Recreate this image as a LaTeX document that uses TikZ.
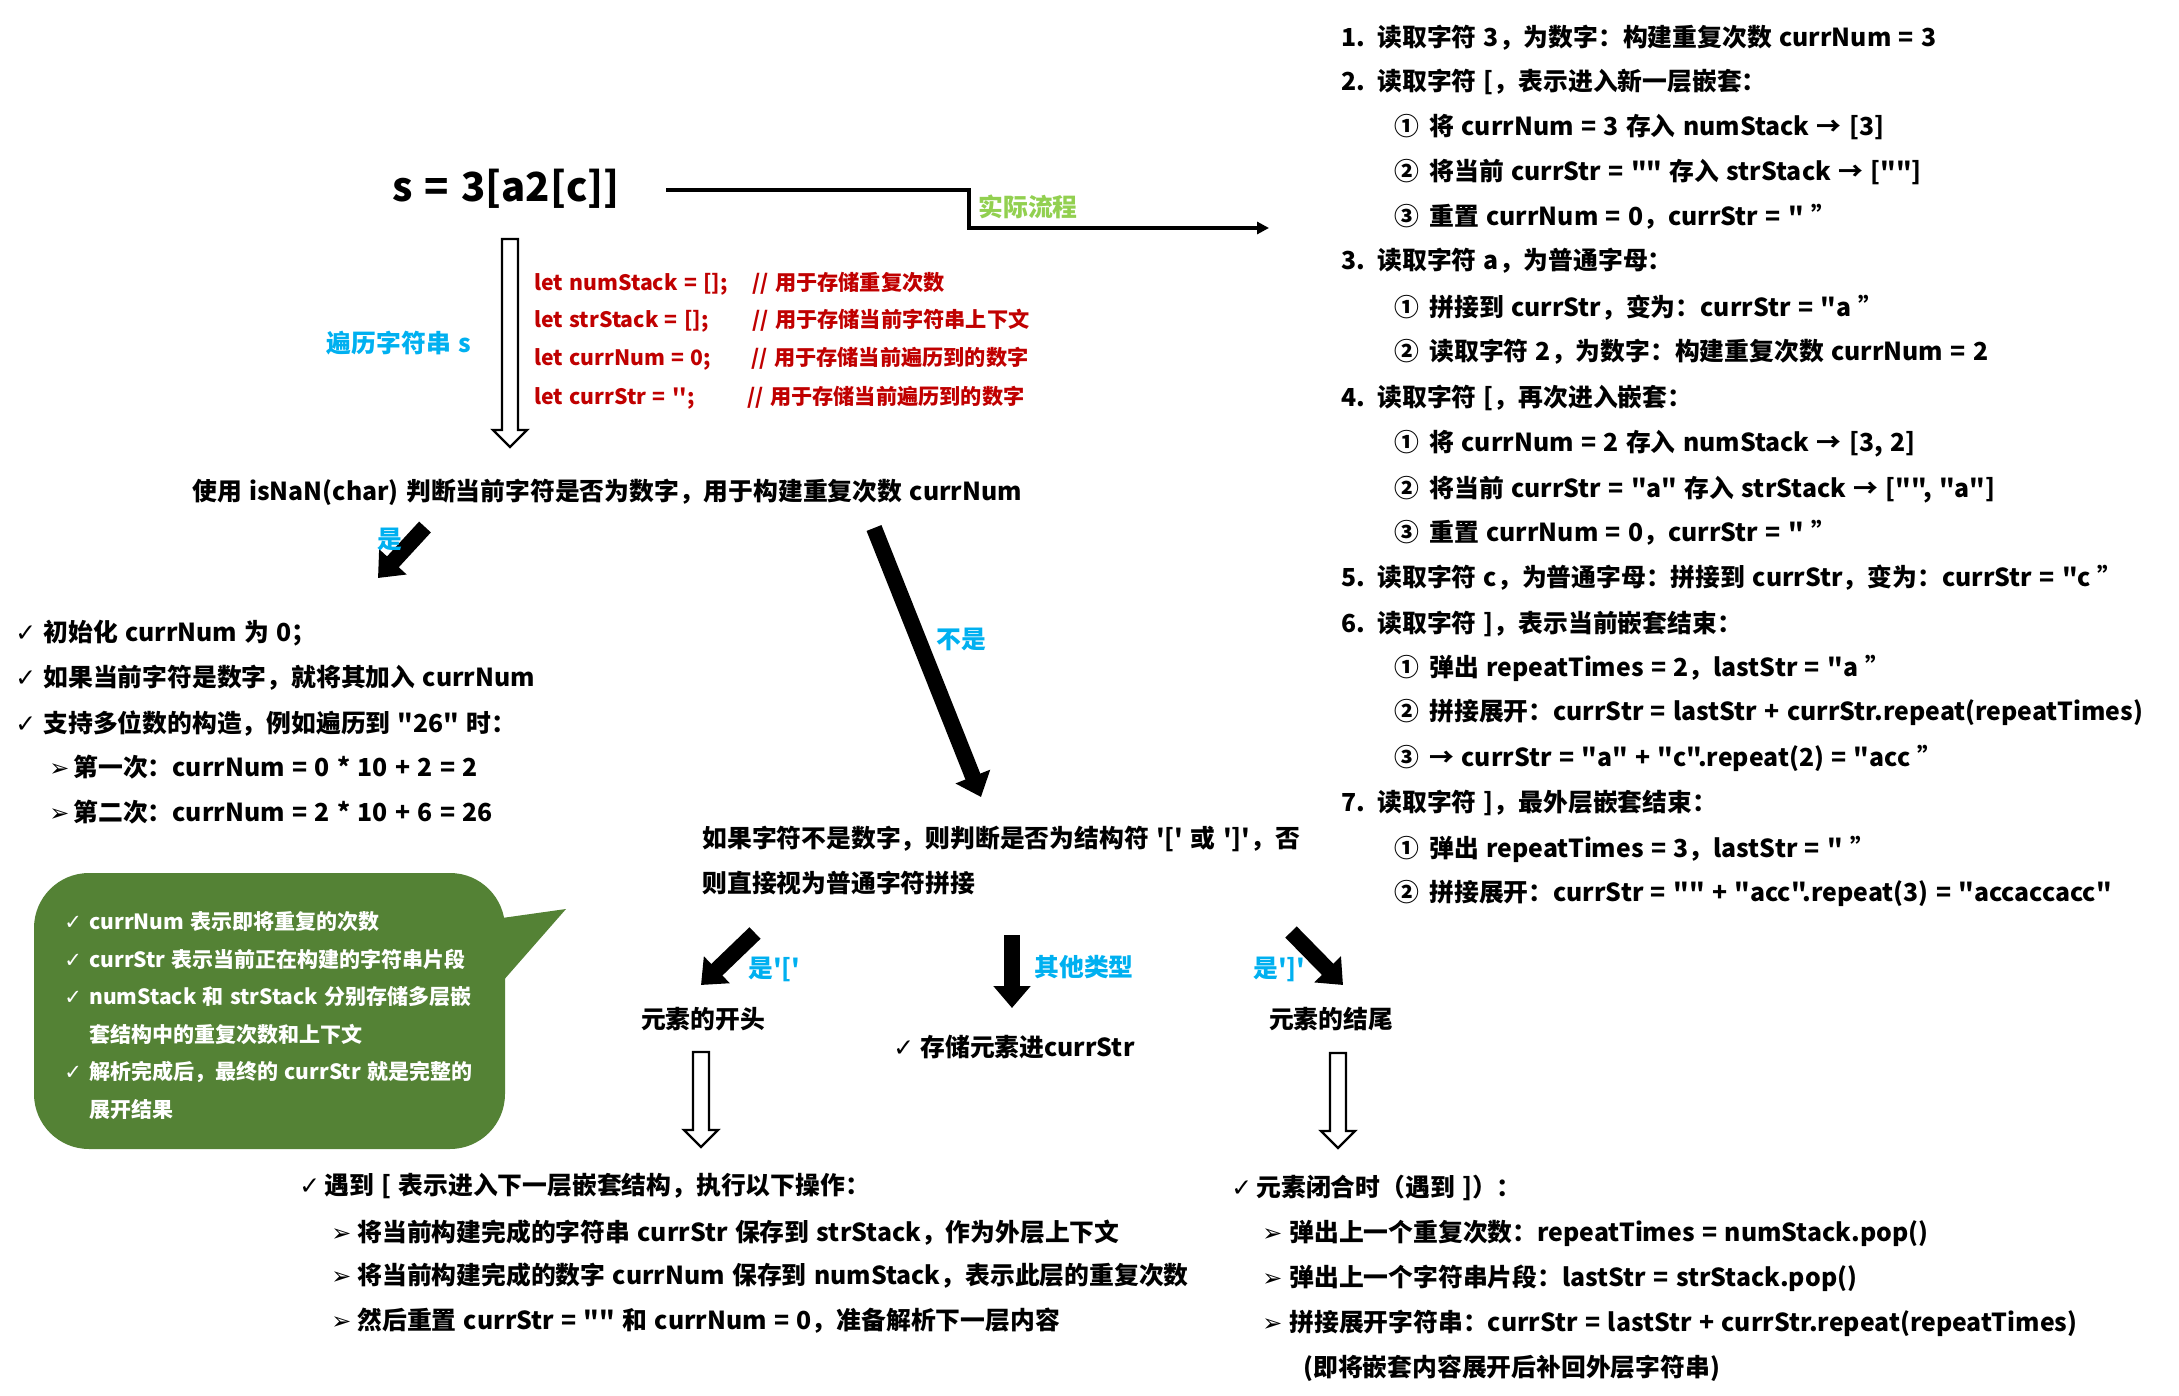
\documentclass[tikz,border=0pt]{standalone}
\usepackage{fontspec}
\newfontfamily\cjk{Noto Sans CJK SC}[WordSpace=1.3]
\newfontfamily\dejavu{DejaVu Sans}
\usetikzlibrary{arrows.meta,calc}
\definecolor{cblue}{HTML}{00B0F0}
\definecolor{cred}{HTML}{C00000}
\definecolor{clgreen}{HTML}{92D050}
\definecolor{cgreen}{HTML}{548235}
\newcommand\ckm[1]{\makebox[#1][l]{\dejavu\mdseries ✓}}
\newcommand\arm[1]{\makebox[#1][l]{\dejavu\mdseries\fontsize{12}{12}\selectfont ➢}}
\newcommand\nbx[2]{\makebox[#1][l]{#2}}
\newcommand\hollowarr[2]{%
  \draw[hollow] ($(#1)+(-8,0)$) -- ($(#2)+(-8,-17)$) -- ($(#2)+(-17,-17)$) -- (#2)
    -- ($(#2)+(17,-17)$) -- ($(#2)+(8,-17)$) -- ($(#1)+(8,0)$) -- cycle;}
\begin{document}
\begin{tikzpicture}[x=0.5pt,y={(0pt,-0.5pt)},
  t/.style={inner sep=0pt, anchor=base west, font=\cjk\bfseries\fontsize{12.4}{15}\selectfont},
  tm/.style={t, anchor=base},
  redt/.style={t, text=cred, font=\cjk\bfseries\fontsize{10.6}{12}\selectfont},
  bluet/.style={t, text=cblue},
  callt/.style={t, text=white, font=\cjk\bfseries\fontsize{10.5}{13}\selectfont},
  blk/.style={line width=8pt, -{Triangle[width=18pt,length=11pt]}},
  hollow/.style={draw=black, line width=1.2pt, fill=white, line join=miter},
  flow/.style={line width=2pt, -{Triangle[width=6pt,length=6pt]}}]
\fill[white] (0,0) rectangle (2179,1396);
\useasboundingbox (0,0) rectangle (2179,1396);

% title and flow line
\node[tm, font=\cjk\bfseries\fontsize{20}{24}\selectfont] (title) at (506,202) {s = 3[a2[c]]};
\coordinate (fs) at (666,190);
\coordinate (fc) at (969,190);
\coordinate (fe) at (1269,228);
\draw[flow] (fs) -- (fc) |- (fe);
\node[tm, text=clgreen] (flowlbl) at (1028,217) {实际流程};

% traverse arrow
\coordinate (tvt) at (510,239);
\coordinate (tvb) at (510,447);
\hollowarr{tvt}{tvb}
\node[tm, text=cblue] (trav) at (399,352) {遍历字符串 s};

% code lines
\node[redt] (c1) at (534,290.5) {let numStack = [];};
\node[redt] (c2) at (534,328) {let strStack = [];};
\node[redt] (c3) at (534,365.5) {let currNum = 0;};
\node[redt] (c4) at (534,404.5) {let currStr = '{}';};
\node[redt] (m1) at (752,290.5) {// 用于存储重复次数};
\node[redt] (m2) at (752,328) {// 用于存储当前字符串上下文};
\node[redt] (m3) at (751,365.5) {// 用于存储当前遍历到的数字};
\node[redt] (m4) at (747,404.5) {// 用于存储当前遍历到的数字};

% main test line
\node[t] (isnan) at (192,500) {使用 isNaN(char) 判断当前字符是否为数字，用于构建重复次数 currNum};

% yes / no arrows
\coordinate (ya) at (425,527);
\coordinate (yb) at (378,578);
\draw[blk] (ya) -- (yb);
\node[tm, text=cblue] (yes) at (390,548) {是};
\coordinate (na) at (874,528);
\coordinate (nb) at (981,797);
\draw[blk] (na) -- (nb);
\node[tm, text=cblue] (no) at (961,648) {不是};

% left list
\node[t] (l1) at (15,641) {\ckm{14pt}初始化 currNum 为 0；};
\node[t] (l2) at (15,686) {\ckm{14pt}如果当前字符是数字，就将其加入 currNum};
\node[t] (l3) at (15,732) {\ckm{14pt}支持多位数的构造，例如遍历到 "26" 时：};
\node[t] (l4) at (49,776) {\arm{12pt}第一次：currNum = 0 * 10 + 2 = 2};
\node[t] (l5) at (49,821) {\arm{12pt}第二次：currNum = 2 * 10 + 6 = 26};

% callout
\fill[cgreen, rounded corners=27.5pt] (34,873) rectangle (505,1149);
\fill[cgreen] (495,919) -- (566,909) -- (495,990) -- cycle;
\node[callt] (k1) at (64,929) {\ckm{12.5pt}currNum 表示即将重复的次数};
\node[callt] (k2) at (64,967) {\ckm{12.5pt}currStr 表示当前正在构建的字符串片段};
\node[callt] (k3) at (64,1004) {\ckm{12.5pt}numStack 和 strStack 分别存储多层嵌};
\node[callt] (k4) at (89,1042) {套结构中的重复次数和上下文};
\node[callt] (k5) at (64,1079) {\ckm{12.5pt}解析完成后，最终的 currStr 就是完整的};
\node[callt] (k6) at (89,1117) {展开结果};

% non-digit
\node[t] (nd1) at (702,847) {如果字符不是数字，则判断是否为结构符 '[' 或 ']'，否};
\node[t] (nd2) at (702,892) {则直接视为普通字符拼接};

% three branch arrows
\coordinate (la) at (755,933);
\coordinate (lb) at (701,985);
\draw[blk] (la) -- (lb);
\node[bluet] (lbl1) at (748,977) {是'['};
\coordinate (oa) at (1012,935);
\coordinate (ob) at (1012,1008);
\draw[blk] (oa) -- (ob);
\node[bluet] (lbl2) at (1034,976) {其他类型};
\coordinate (ra) at (1291,932);
\coordinate (rb) at (1343,985);
\draw[blk] (ra) -- (rb);
\node[bluet] (lbl3) at (1253,977) {是']'};

\node[tm] (open) at (703,1028) {元素的开头};
\node[t] (store) at (893,1056) {\ckm{13.5pt}存储元素进currStr};
\node[tm] (close) at (1331,1028) {元素的结尾};

\coordinate (hla) at (701,1052);
\coordinate (hlb) at (701,1147);
\hollowarr{hla}{hlb}
\coordinate (hra) at (1338,1053);
\coordinate (hrb) at (1338,1148);
\hollowarr{hra}{hrb}

% bottom left
\node[t] (b0) at (299,1194) {\ckm{12.5pt}遇到 [ 表示进入下一层嵌套结构，执行以下操作：};
\node[t] (b1) at (331,1241) {\arm{13pt}将当前构建完成的字符串 currStr 保存到 strStack，作为外层上下文};
\node[t] (b2) at (331,1284) {\arm{13pt}将当前构建完成的数字 currNum 保存到 numStack，表示此层的重复次数};
\node[t] (b3) at (331,1329) {\arm{13pt}然后重置 currStr = "" 和 currNum = 0，准备解析下一层内容};

% bottom right
\node[t] (e0) at (1231,1196) {\ckm{12.5pt}元素闭合时（遇到 ]）：};
\node[t] (e1) at (1262,1241) {\arm{13.5pt}弹出上一个重复次数：repeatTimes = numStack.pop()};
\node[t] (e2) at (1262,1286) {\arm{13.5pt}弹出上一个字符串片段：lastStr = strStack.pop()};
\node[t] (e3) at (1262,1331) {\arm{13.5pt}拼接展开字符串：currStr = lastStr + currStr.repeat(repeatTimes)};
\node[t] (e4) at (1303,1376) {(即将嵌套内容展开后补回外层字符串)};

% right column
\node[t] (r1) at (1341,46.5) {\nbx{18pt}{1.}读取字符 3，为数字：构建重复次数 currNum = 3};
\node[t] (r2) at (1341,91) {\nbx{18pt}{2.}读取字符 [，表示进入新一层嵌套：};
\node[t] (r3) at (1394,135.5) {\nbx{17.5pt}{①}将 currNum = 3 存入 numStack → [3]};
\node[t] (r4) at (1394,181) {\nbx{17.5pt}{②}将当前 currStr = "" 存入 strStack → [""]};
\node[t] (r5) at (1394,226) {\nbx{17.5pt}{③}重置 currNum = 0，currStr = " ”};
\node[t] (r6) at (1341,270) {\nbx{18pt}{3.}读取字符 a，为普通字母：};
\node[t] (r7) at (1394,316) {\nbx{17.5pt}{①}拼接到 currStr，变为：currStr = "a ”};
\node[t] (r8) at (1394,360.6) {\nbx{17.5pt}{②}读取字符 2，为数字：构建重复次数 currNum = 2};
\node[t] (r9) at (1341,406) {\nbx{18pt}{4.}读取字符 [，再次进入嵌套：};
\node[t] (r10) at (1394,451) {\nbx{17.5pt}{①}将 currNum = 2 存入 numStack → [3, 2]};
\node[t] (r11) at (1394,497) {\nbx{17.5pt}{②}将当前 currStr = "a" 存入 strStack → ["", "a"]};
\node[t] (r12) at (1394,541) {\nbx{17.5pt}{③}重置 currNum = 0，currStr = " ”};
\node[t] (r13) at (1341,586) {\nbx{18pt}{5.}读取字符 c，为普通字母：拼接到 currStr，变为：currStr = "c ”};
\node[t] (r14) at (1341,632) {\nbx{18pt}{6.}读取字符 ]，表示当前嵌套结束：};
\node[t] (r15) at (1394,676) {\nbx{17.5pt}{①}弹出 repeatTimes = 2，lastStr = "a ”};
\node[t] (r16) at (1394,720.5) {\nbx{17.5pt}{②}拼接展开：currStr = lastStr + currStr.repeat(repeatTimes)};
\node[t] (r17) at (1394,766) {\nbx{17.5pt}{③}→ currStr = "a" + "c".repeat(2) = "acc ”};
\node[t] (r18) at (1341,811) {\nbx{18pt}{7.}读取字符 ]，最外层嵌套结束：};
\node[t] (r19) at (1394,857) {\nbx{17.5pt}{①}弹出 repeatTimes = 3，lastStr = " ”};
\node[t] (r20) at (1394,901) {\nbx{17.5pt}{②}拼接展开：currStr = "" + "acc".repeat(3) = "accaccacc"};
\end{tikzpicture}
\end{document}
